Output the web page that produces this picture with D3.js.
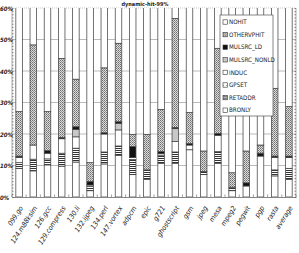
<!DOCTYPE html>
<html><head><meta charset="utf-8">
<script src="https://cdn.jsdelivr.net/npm/d3@7/dist/d3.min.js"></script>
<style>body{margin:0;background:#fff}svg{display:block}</style>
</head><body>
<script>
const title = "dynamic-hit-99%";
const categories = ["099.go","124.m88ksim","126.gcc","129.compress","130.li","132.ijpeg","134.perl","147.vortex","adpcm","epic","g721","ghostscript","gsm","jpeg","mesa","mpeg2","pegwit","pgp","rasta","average"];
// stacked from bottom to top
const stackOrder = ["BRONLY","RETADDR","GPSET","INDUC","MULSRC_NONLD","MULSRC_LD","OTHERVPHIT","NOHIT"];
const legendOrder = ["NOHIT","OTHERVPHIT","MULSRC_LD","MULSRC_NONLD","INDUC","GPSET","RETADDR","BRONLY"];
const BRONLY       = [9.1,8.3,10.2,9.8,11.1,2.0,10.5,13.2,7.1,5.6,10.7,10.7,15.0,7.1,10.7,2.0,3.5,13.0,6.7,5.6];
const RETADDR      = [1.8,3.7,1.9,4.1,4.4,1.3,3.8,3.0,4.8,3.0,2.6,3.6,0,1.0,3.7,1.1,0,0,1.9,3.5];
const GPSET        = [0,0,0,0,0,0,0,0,0,0,0,0,0,0,0,0,0,0,0,0];
const INDUC        = [1.7,4.5,1.8,4.6,3.6,0.5,5.7,5.1,0.6,0,0.5,3.3,1.5,0,5.2,0,0,0,4.0,3.4];
const MULSRC_NONLD = [0,0,0,0,2.4,0,0,2.1,0,0,0,4.1,0,0,0,0,0,0,0,0];
const MULSRC_LD    = [0.4,0,0.8,0.4,0.8,1.1,0.4,0.5,3.5,0,0.6,0.4,0.5,0,0.6,0,1.0,0.9,0.4,0.5];
const OTHERVPHIT   = [14.1,31.8,12.4,25.1,15.1,6.0,20.6,24.9,3.9,11.3,13.4,34.6,9.8,6.5,27.0,4.6,10.1,2.6,21.5,15.7];
const NOHIT        = [72.9,51.7,72.9,56.0,62.6,89.1,59.0,51.2,80.1,80.1,72.2,43.3,73.2,85.4,52.8,92.3,85.4,83.5,65.5,71.3];
const yTicks = [0,10,20,30,40,50,60];

const seriesValues = {BRONLY,RETADDR,GPSET,INDUC,MULSRC_NONLD,MULSRC_LD,OTHERVPHIT,NOHIT};
const table = categories.map((c,i)=>{const o={cat:c};stackOrder.forEach(s=>o[s]=seriesValues[s][i]);return o;});

const W=299,H=253;
const m={l:12,r:3,t:8,b:56};
const svg=d3.select("body").append("svg").attr("width",W).attr("height",H);
const defs=svg.append("defs");
const font='"Liberation Sans Narrow","DejaVu Sans Condensed","Liberation Sans",sans-serif';

// patterns
let p=defs.append("pattern").attr("id","dots").attr("width",2).attr("height",2).attr("patternUnits","userSpaceOnUse");
p.append("rect").attr("width",2).attr("height",2).attr("fill","#dcdcdc");
p.append("rect").attr("width",1).attr("height",1).attr("fill","#6e6e6e");
p.append("rect").attr("x",1).attr("y",1).attr("width",1).attr("height",1).attr("fill","#909090");
p=defs.append("pattern").attr("id","stripes").attr("width",4).attr("height",2).attr("patternUnits","userSpaceOnUse");
p.append("rect").attr("width",4).attr("height",2).attr("fill","#fff");
p.append("rect").attr("width",4).attr("height",1).attr("fill","#333");
p=defs.append("pattern").attr("id","sparse").attr("width",3).attr("height",3).attr("patternUnits","userSpaceOnUse");
p.append("rect").attr("width",3).attr("height",3).attr("fill","#fff");
p.append("rect").attr("width",1).attr("height",1).attr("fill","#aaa");

const fills={NOHIT:"#fff",OTHERVPHIT:"url(#dots)",MULSRC_LD:"#111",MULSRC_NONLD:"#c8c8c8",INDUC:"#fff",GPSET:"url(#sparse)",RETADDR:"url(#stripes)",BRONLY:"#fff"};

const x=d3.scaleBand().domain(categories).range([m.l,W-m.r]).paddingInner(0.54).paddingOuter(0.27);
const y=d3.scaleLinear().domain([0,60]).range([H-m.b,m.t]);

defs.append("clipPath").attr("id","plot").append("rect")
  .attr("x",m.l).attr("y",m.t).attr("width",W-m.r-m.l).attr("height",H-m.b-m.t);

// gridlines
svg.append("g").selectAll("line").data(yTicks.filter(v=>v>0)).join("line")
  .attr("x1",m.l).attr("x2",W-m.r).attr("y1",d=>y(d)).attr("y2",d=>y(d))
  .attr("stroke",d=>d===60?"#bbb":"#aaa").attr("stroke-width",0.8)
  .attr("stroke-dasharray",d=>d===60?"1,1":null);

// bars
const stack=d3.stack().keys(stackOrder)(table);
svg.append("g").attr("clip-path","url(#plot)").selectAll("g").data(stack).join("g")
  .attr("fill",d=>fills[d.key])
  .selectAll("rect").data(d=>d).join("rect")
  .attr("x",d=>x(d.data.cat)).attr("width",x.bandwidth())
  .attr("y",d=>y(d[1])).attr("height",d=>Math.max(0,y(d[0])-y(d[1])))
  .attr("stroke","#444").attr("stroke-width",0.75);

// left and right frame with minor ticks
const minor=d3.range(0,61,1);
[m.l,W-m.r].forEach((xx,k)=>{
  svg.append("line").attr("x1",xx).attr("x2",xx).attr("y1",y(0)).attr("y2",y(60)).attr("stroke","#999").attr("stroke-width",0.8);
  svg.append("g").selectAll("line").data(minor).join("line")
    .attr("x1",xx).attr("x2",k===0?xx+1.5:xx-1.5).attr("y1",d=>y(d)+0.5).attr("y2",d=>y(d)+0.5)
    .attr("stroke","#666").attr("stroke-width",0.8);
});

// y axis labels
const yAxis=d3.axisLeft(y).tickValues(yTicks).tickFormat(d=>d+"%").tickSize(0).tickPadding(1);
const ya=svg.append("g").attr("transform",`translate(${m.l},0)`).call(yAxis);
ya.select(".domain").remove();
ya.selectAll("text").attr("font-family",font).attr("font-size",6).attr("font-weight","bold").attr("font-style","italic").attr("fill","#222").attr("text-anchor","start").attr("x",-12).attr("dy","0.4em");

// x axis
const xa=svg.append("g").attr("transform",`translate(0,${y(0)})`).call(d3.axisBottom(x).tickSize(0).tickPadding(0));
xa.select(".domain").attr("stroke","#666").attr("stroke-width",0.8);
xa.selectAll("text").attr("font-family",font).attr("font-size",7).attr("font-style","italic").attr("fill","#222")
  .attr("text-anchor","end").attr("dy",0).attr("y",0)
  .attr("transform",d=>`translate(${x.bandwidth()/2+1},11) rotate(-57)`);
// category boundary ticks
const bounds=categories.map(c=>x(c)-x.step()*x.paddingInner()/2).concat([W-m.r]);
svg.append("g").selectAll("line").data(bounds).join("line")
  .attr("x1",d=>d).attr("x2",d=>d).attr("y1",y(0)).attr("y2",y(0)-2.5).attr("stroke","#777").attr("stroke-width",0.7);

// title
svg.append("text").attr("x",145).attr("y",5.5).attr("text-anchor","middle").attr("font-family",font)
  .attr("font-size",5.5).attr("font-weight","bold").attr("fill","#222").text(title);

// legend
const lg=svg.append("g").attr("transform","translate(220,15)");
lg.append("rect").attr("width",53).attr("height",101).attr("fill","#fff").attr("stroke","#555").attr("stroke-width",0.7);
const li=lg.selectAll("g").data(legendOrder).join("g").attr("transform",(d,i)=>`translate(3,${7+i*12.6})`);
li.append("rect").attr("x",0).attr("y",-2.2).attr("width",4.4).attr("height",4.4).attr("fill",d=>fills[d]).attr("stroke","#333").attr("stroke-width",0.6);
li.append("text").attr("x",6).attr("y",0).attr("dy","0.35em").attr("font-family",font).attr("font-size",6.2).attr("fill","#222").text(d=>d);
</script>
</body></html>
